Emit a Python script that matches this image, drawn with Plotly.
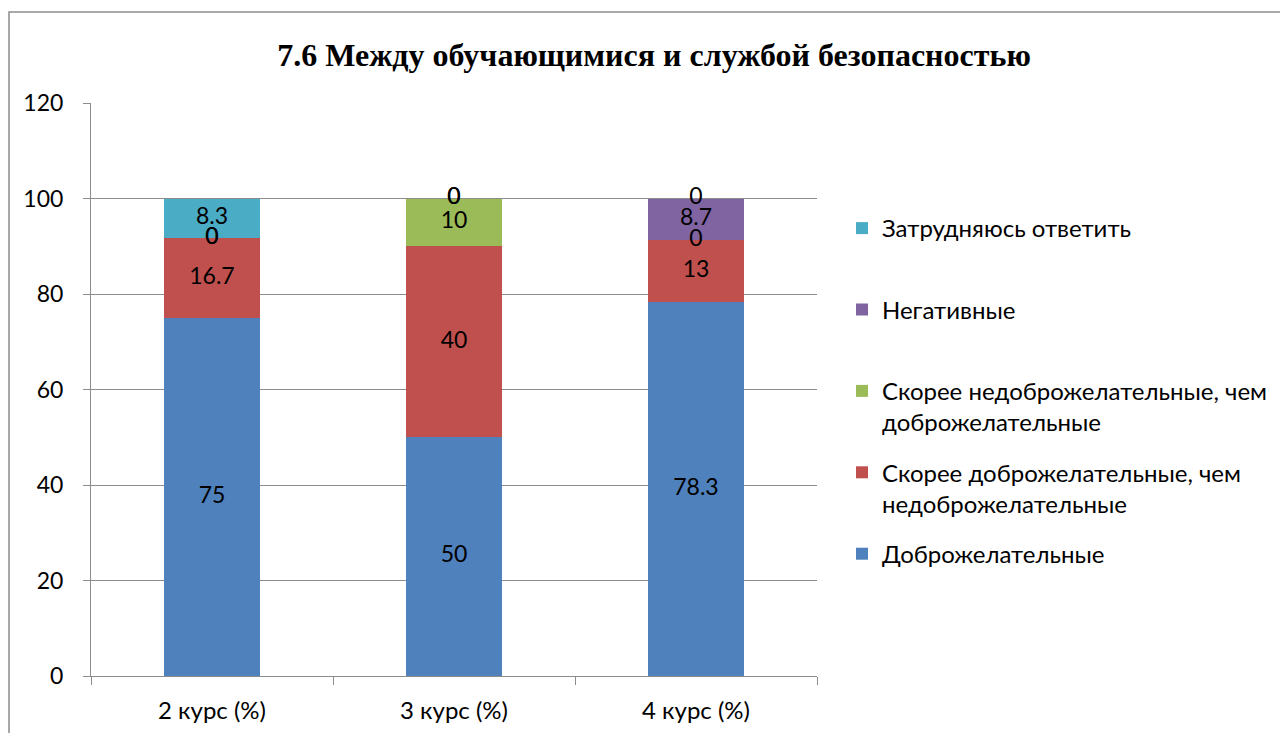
import plotly.graph_objects as go
import numpy as np

categories = ["2 курс (%)", "3 курс (%)", "4 курс (%)"]
series_names = [
    "Доброжелательные",
    "Скорее доброжелательные, чем<br>недоброжелательные",
    "Скорее недоброжелательные, чем<br>доброжелательные",
    "Негативные",
    "Затрудняюсь ответить",
]
dobro = [75, 50, 78.3]
skoree_dobro = [16.7, 40, 13]
skoree_nedobro = [0, 10, 0]
negativ = [0, 0, 8.7]
zatrud = [8.3, 0, 0]
y_ticks = [0, 20, 40, 60, 80, 100, 120]

series_values = [dobro, skoree_dobro, skoree_nedobro, negativ, zatrud]
colors = ["#4F81BD", "#C0504D", "#9BBB59", "#8064A2", "#4BACC6"]

FONT = "Lato, 'Noto Sans', sans-serif"
FS = 24
FS_NUM = 23

# figure is shown with an 8px page margin: figure-space coordinates below
W, H = 1280, 725
L, R, T, B = 83, 809, 95, 668
PW, PH = R - L, B - T

fig = go.Figure()
n = len(series_names)
for i, (name, vals, col) in enumerate(zip(series_names, series_values, colors)):
    label = name if "<br>" in name else name + "<br> "
    fig.add_trace(go.Bar(
        x=categories, y=vals, name=label, marker=dict(color=col, line=dict(width=0)),
        width=0.4, legendgroup=str(i), legendrank=n - i,
    ))

# data labels at the middle of each segment
cum = np.zeros(len(categories))
for vals in series_values:
    v = np.array(vals, dtype=float)
    mids = cum + v / 2
    fig.add_trace(go.Scatter(
        x=categories, y=mids, mode="text",
        text=[("%g" % a) for a in v], textposition="middle center",
        textfont=dict(family=FONT, size=FS_NUM, color="black"),
        showlegend=False, hoverinfo="skip",
    ))
    cum = cum + v

grid = "#8C8C8C"
fig.update_layout(
    barmode="stack",
    width=W, height=H,
    margin=dict(l=L, r=W - R, t=T, b=H - B, autoexpand=False),
    paper_bgcolor="white", plot_bgcolor="white",
    font=dict(family=FONT, size=FS, color="black"),
    title=dict(
        text="<b>7.6 Между обучающимися и службой безопасностью</b>",
        font=dict(family="'Liberation Serif', 'Times New Roman', serif", size=32, color="black"),
        x=646 / W, xanchor="center", y=1 - 47 / H, yanchor="middle", yref="container",
    ),
    legend=dict(
        x=(834 - L) / PW, y=1 - (198 - T) / PH, xanchor="left", yanchor="top",
        traceorder="grouped", tracegroupgap=16, valign="top",
        font=dict(family=FONT, size=FS, color="black"),
        bgcolor="rgba(0,0,0,0)",
    ),
    xaxis=dict(
        showline=True, linecolor=grid, linewidth=1,
        ticks="outside", tickson="boundaries", ticklen=8, tickcolor=grid,
        showgrid=False, tickfont=dict(family=FONT, size=FS),
        ticklabelstandoff=13, automargin=False,
    ),
    yaxis=dict(
        range=[0, 120], tickvals=y_ticks, showline=True, linecolor=grid, linewidth=1,
        ticks="outside", ticklen=7, tickcolor=grid, showgrid=True, gridcolor=grid,
        gridwidth=1, zeroline=False, tickfont=dict(family=FONT, size=FS_NUM),
        ticklabelstandoff=15, automargin=False,
    ),
    shapes=[dict(type="rect", xref="paper", yref="paper",
                 x0=(1 - L) / PW, x1=(1300 - L) / PW,
                 y0=(B - 740) / PH, y1=(B - 4) / PH,
                 line=dict(color=grid, width=1.5), fillcolor="rgba(0,0,0,0)", layer="below")],
)

fig.write_html("out.html")
